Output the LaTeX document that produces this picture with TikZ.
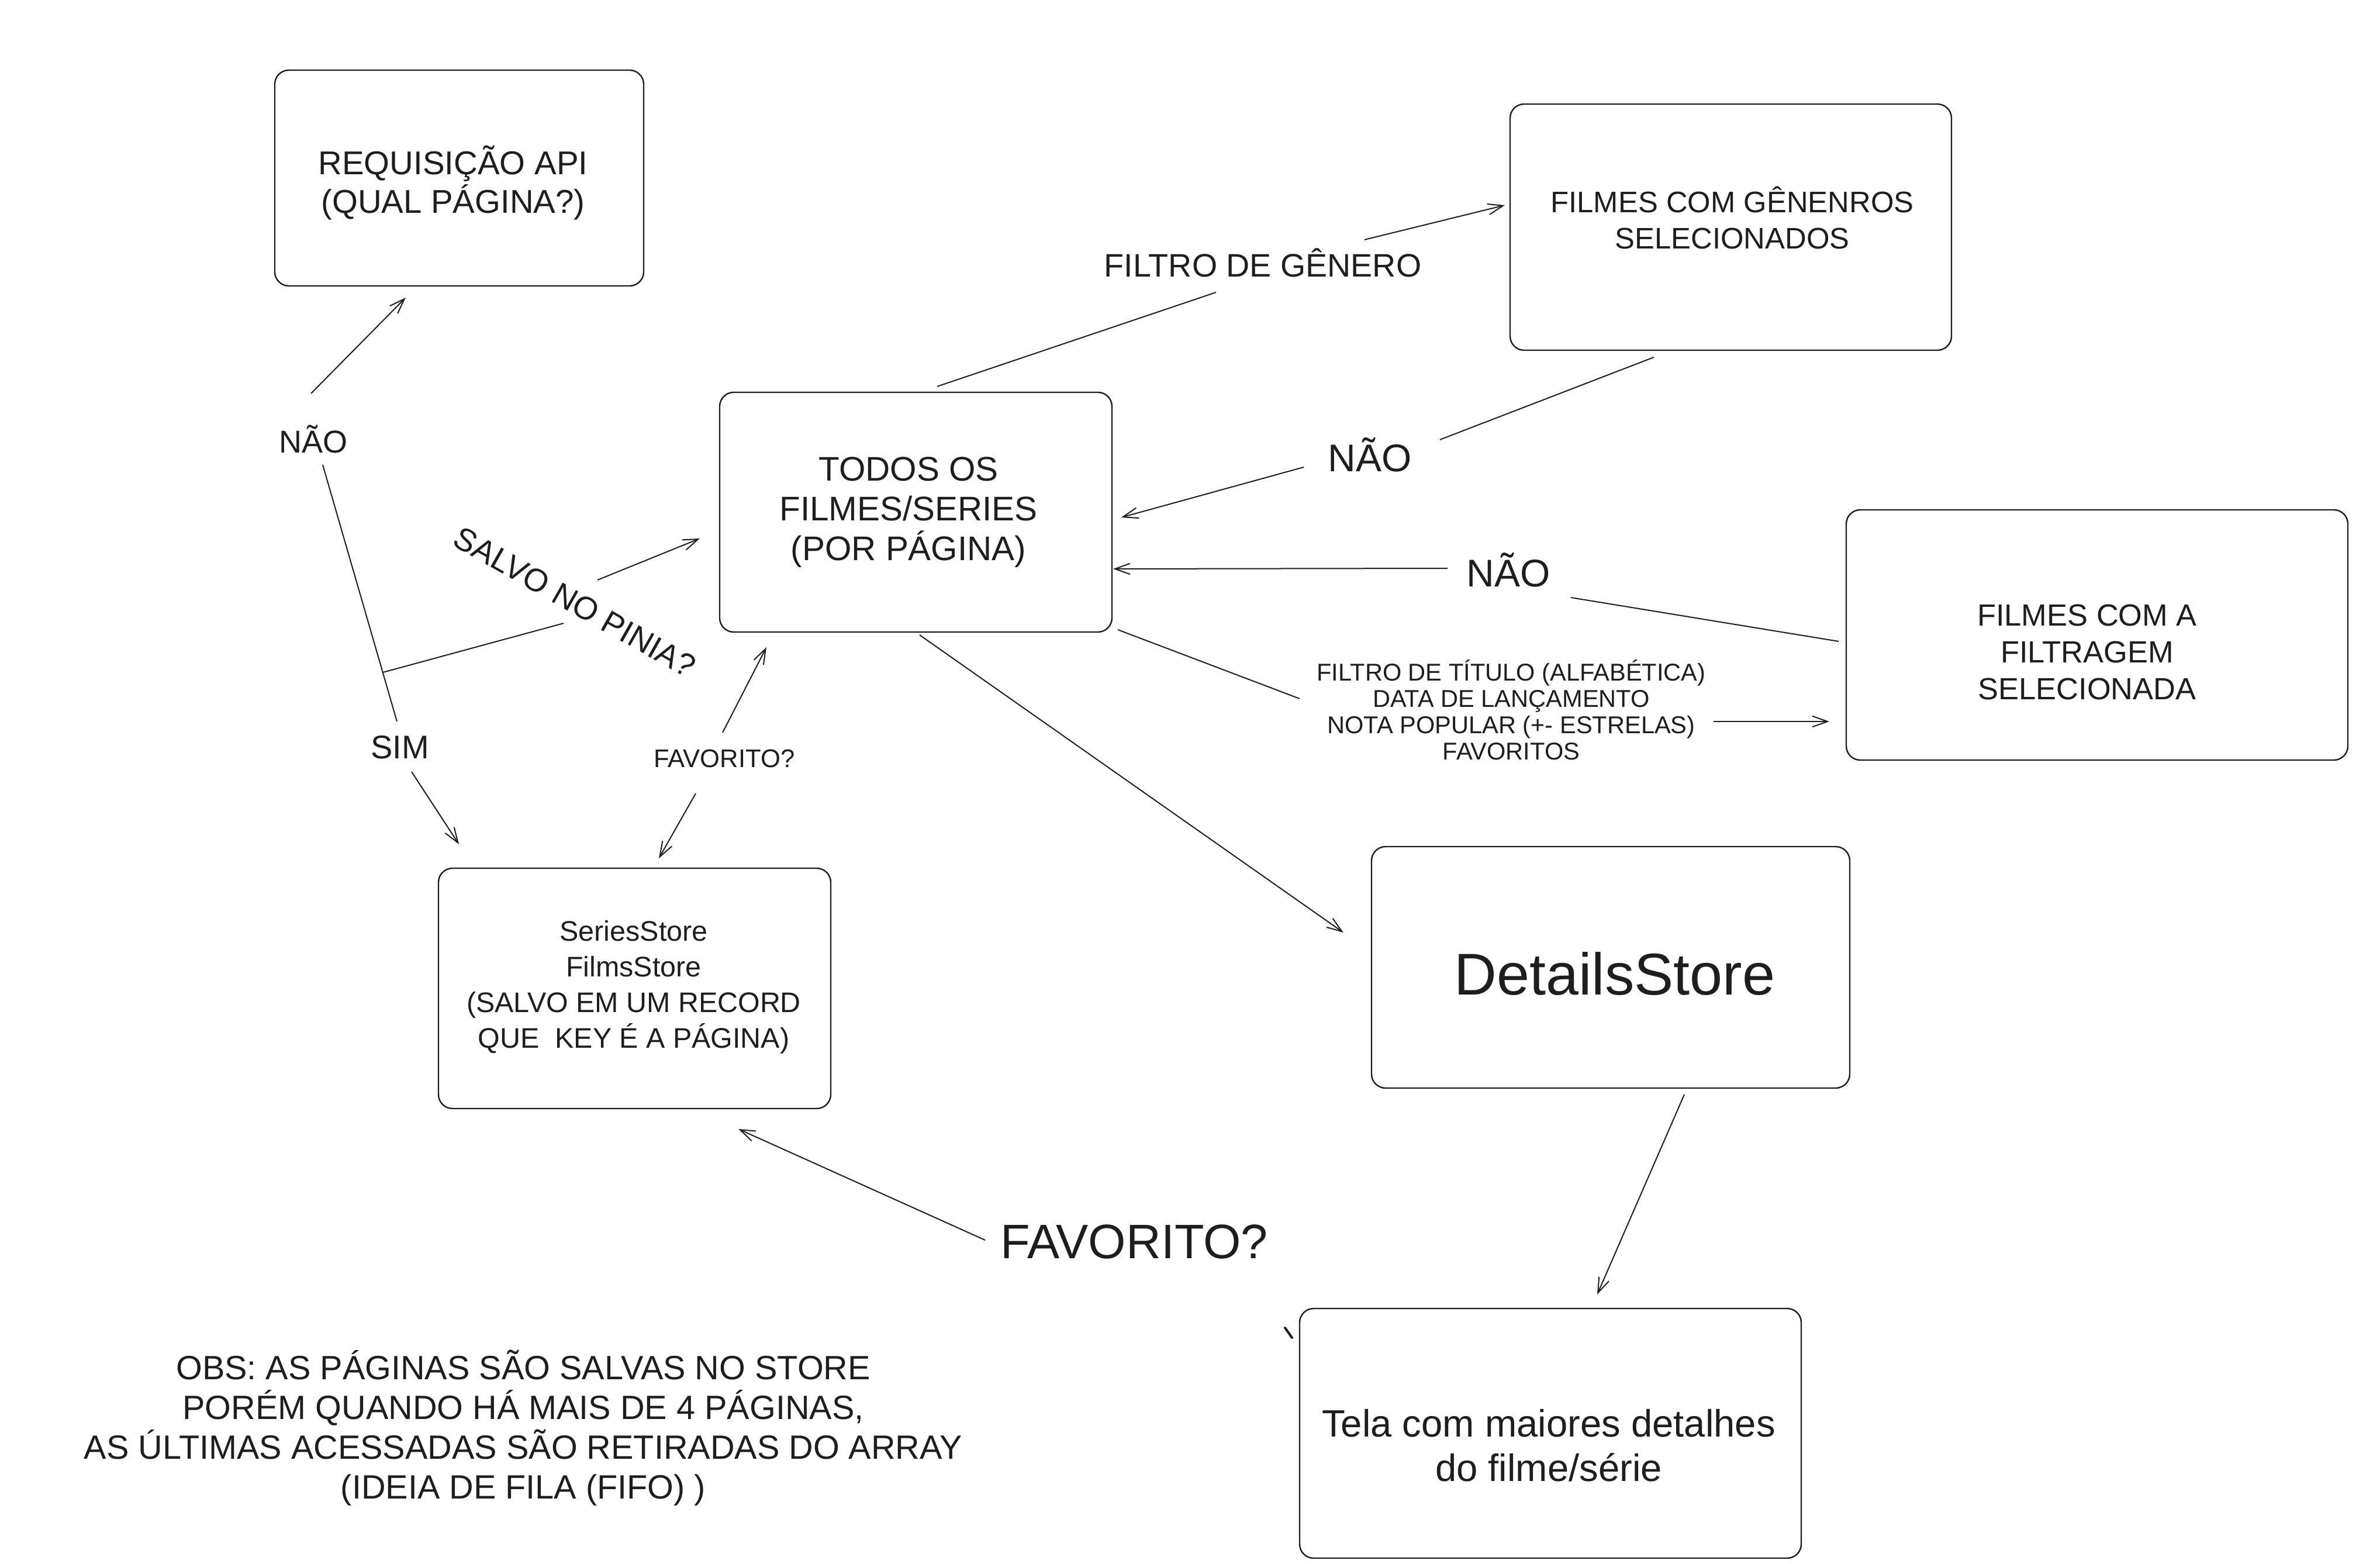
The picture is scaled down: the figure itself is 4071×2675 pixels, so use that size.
\documentclass[tikz,border=0pt]{standalone}
\usepackage{fontspec}
\setmainfont{Liberation Sans}
\usetikzlibrary{arrows.meta}
\definecolor{ink}{HTML}{1E1E1E}
\tikzset{
  box/.style={draw=ink, rounded corners=6pt, line width=0.6pt, inner sep=0pt, outer sep=0pt},
  lbl/.style={text=ink, inner sep=0pt, align=center},
  conn/.style={draw=ink, line width=0.5pt},
  arr/.style={conn, -{Straight Barb[length=6.5pt,width=4.6pt]}}
}
\begin{document}
\begin{tikzpicture}[x=0.25pt,y=-0.25pt]
\fill[white] (0,0) rectangle (4071,2675);
\useasboundingbox (0,0) rectangle (4071,2675);

% ---------- boxes ----------
\node[box, minimum width=157.75pt, minimum height=92.25pt] (req)   at (785.5,304.5) {};
\node[box, minimum width=167.75pt, minimum height=102.5pt] (todos) at (1566.5,876) {};
\node[box, minimum width=188.75pt, minimum height=105.25pt] (gen)   at (2960.5,388.5) {};
\node[box, minimum width=214.5pt, minimum height=107pt] (fil)   at (3587,1086) {};
\node[box, minimum width=167.75pt, minimum height=102.75pt] (ser)   at (1085.5,1690.5) {};
\node[box, minimum width=204.5pt, minimum height=103.25pt] (det)   at (2755,1654.5) {};
\node[box, minimum width=214.5pt, minimum height=106.75pt] (tela)  at (2652,2451.5) {};

% ---------- box texts ----------
\node[lbl, font=\fontsize{14.1pt}{16.5pt}\selectfont] (reqT) at (775,313) {REQUISIÇÃO API\\(QUAL PÁGINA?)};
\node[lbl, font=\fontsize{14.6pt}{17pt}\selectfont] (todosT) at (1554,876) {TODOS OS\\FILMES/SERIES\\(POR PÁGINA)};
\node[lbl, font=\fontsize{12.7pt}{15.5pt}\selectfont] (genT) at (2963,373) {FILMES COM GÊNENROS\\SELECIONADOS};
\node[lbl, font=\fontsize{13.1pt}{15.75pt}\selectfont] (filT) at (3570,1115) {FILMES COM A\\FILTRAGEM\\SELECIONADA};
\node[lbl, font=\fontsize{12.1pt}{15.25pt}\selectfont] (serT) at (1084,1688) {SeriesStore\\FilmsStore\\(SALVO EM UM RECORD\\QUE~~KEY É A PÁGINA)};
\node[lbl, font=\fontsize{25.2pt}{30pt}\selectfont] (detT) at (2762,1665) {DetailsStore};
\node[lbl, font=\fontsize{16.3pt}{19pt}\selectfont] (telaT) at (2649,2472) {Tela com maiores detalhes\\do filme/série};

% ---------- labels ----------
\node[lbl, font=\fontsize{13.5pt}{16pt}\selectfont] (nao1) at (536,751) {NÃO};
\node[lbl, font=\fontsize{14pt}{16pt}\selectfont] (sim) at (684,1278) {SIM};
\node[lbl, font=\fontsize{13.7pt}{16pt}\selectfont, rotate=-29.5] (salvo) at (983,1030) {SALVO NO PINIA?};
\node[lbl, font=\fontsize{10.9pt}{13pt}\selectfont] (favS) at (1239,1297) {FAVORITO?};
\node[lbl, font=\fontsize{13.9pt}{16pt}\selectfont] (filtroG) at (2160,449) {FILTRO DE GÊNERO};
\node[lbl, font=\fontsize{16.5pt}{19pt}\selectfont] (nao2) at (2343,778) {NÃO};
\node[lbl, font=\fontsize{16.5pt}{19pt}\selectfont] (nao3) at (2580,975) {NÃO};
\node[lbl, font=\fontsize{10.4pt}{11.25pt}\selectfont] (ftxt) at (2585,1214) {FILTRO DE TÍTULO (ALFABÉTICA)\\DATA DE LANÇAMENTO\\NOTA POPULAR (+- ESTRELAS)\\FAVORITOS};
\node[lbl, font=\fontsize{20.7pt}{24pt}\selectfont] (favB) at (1940,2124) {FAVORITO?};
\node[lbl, font=\fontsize{14.4pt}{17pt}\selectfont] (obs) at (895,2442) {OBS: AS PÁGINAS SÃO SALVAS NO STORE\\PORÉM QUANDO HÁ MAIS DE 4 PÁGINAS,\\AS ÚLTIMAS ACESSADAS SÃO RETIRADAS DO ARRAY\\(IDEIA DE FILA (FIFO) )};

% ---------- connector end points ----------
\coordinate (nao1Up) at (532,673);   \coordinate (reqIn) at (694,509);
\coordinate (nao1Dn) at (552,795);   \coordinate (simUp) at (679,1234);
\coordinate (simDn) at (704,1320);   \coordinate (serIn1) at (785,1444);
\coordinate (junc) at (655,1150);    \coordinate (salvoIn) at (964,1066);
\coordinate (salvoOut) at (1022,992); \coordinate (todosIn1) at (1197,921);
\coordinate (favSUp) at (1236,1253); \coordinate (todosIn2) at (1311,1107);
\coordinate (favSDn) at (1190,1357); \coordinate (serIn2) at (1127,1468);
\coordinate (todosOut1) at (1603,661); \coordinate (filtroGIn) at (2080,500);
\coordinate (filtroGOut) at (2334,410); \coordinate (genIn) at (2574,351);
\coordinate (genOut) at (2829,611);  \coordinate (nao2In) at (2463,752);
\coordinate (nao2Out) at (2230,799); \coordinate (todosIn3) at (1918,885);
\coordinate (filOut) at (3145,1097); \coordinate (nao3In) at (2687,1022);
\coordinate (nao3Out) at (2476,972); \coordinate (todosIn4) at (1904,973);
\coordinate (todosOut2) at (1912,1077); \coordinate (ftxtIn) at (2223,1195);
\coordinate (ftxtOut) at (2931,1234); \coordinate (filIn) at (3129,1234);
\coordinate (todosOut3) at (1573,1086); \coordinate (detIn) at (2298,1595);
\coordinate (detOut) at (2881,1872); \coordinate (telaIn) at (2732,2214);
\coordinate (favBOut) at (1685,2121); \coordinate (serIn3) at (1263,1931);
\coordinate (strayA) at (2198,2271); \coordinate (strayB) at (2210,2288);

% ---------- connectors ----------
\draw[arr]  (nao1Up) -- (reqIn);
\draw[conn] (nao1Dn) -- (simUp);
\draw[arr]  (simDn) -- (serIn1);
\draw[conn] (junc) -- (salvoIn);
\draw[arr]  (salvoOut) -- (todosIn1);
\draw[arr]  (favSUp) -- (todosIn2);
\draw[arr]  (favSDn) -- (serIn2);
\draw[conn] (todosOut1) -- (filtroGIn);
\draw[arr]  (filtroGOut) -- (genIn);
\draw[conn] (genOut) -- (nao2In);
\draw[arr]  (nao2Out) -- (todosIn3);
\draw[conn] (filOut) -- (nao3In);
\draw[arr]  (nao3Out) -- (todosIn4);
\draw[conn] (todosOut2) -- (ftxtIn);
\draw[arr]  (ftxtOut) -- (filIn);
\draw[arr]  (todosOut3) -- (detIn);
\draw[arr]  (detOut) -- (telaIn);
\draw[arr]  (favBOut) -- (serIn3);
\draw[draw=ink, line width=1pt, line cap=round] (strayA) -- (strayB);
\end{tikzpicture}
\end{document}
